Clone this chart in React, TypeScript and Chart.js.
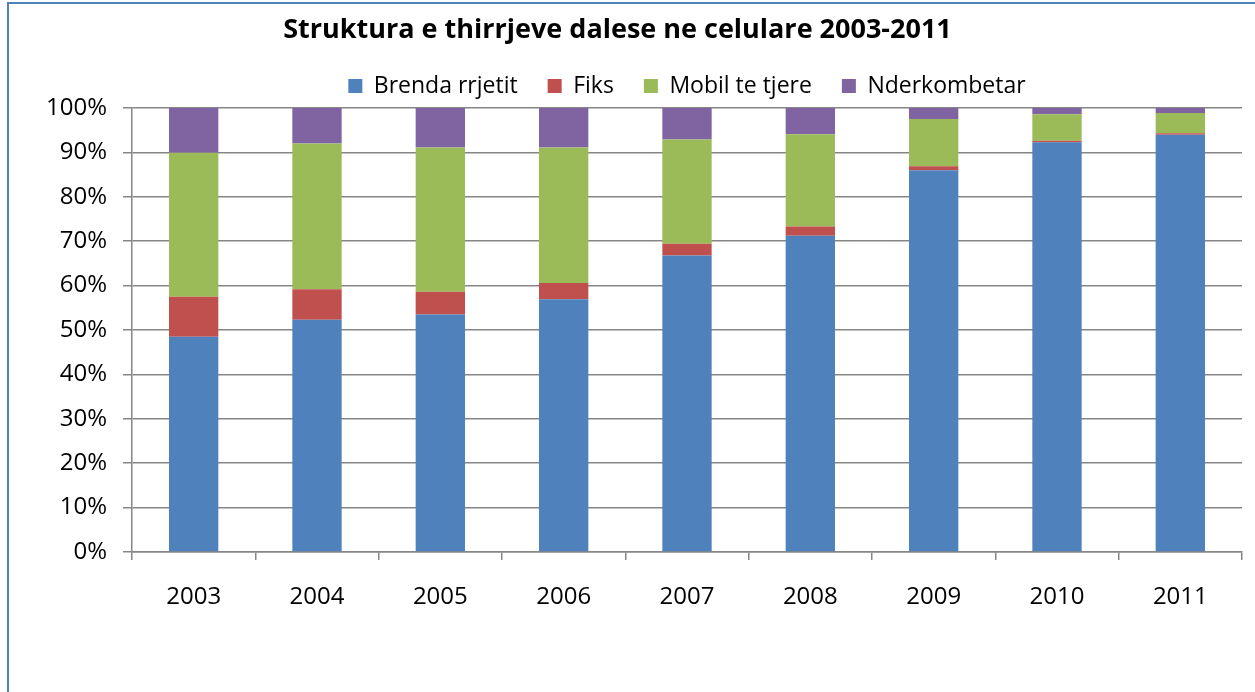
import React, { useEffect, useRef } from "react";
import { Chart, registerables } from "chart.js";

Chart.register(...registerables);

const years = ["2003", "2004", "2005", "2006", "2007", "2008", "2009", "2010", "2011"];
const brendaRrjetit = [48.5, 52.3, 53.5, 56.9, 66.8, 71.2, 86.0, 92.3, 94.0];
const fiks = [9.0, 6.9, 5.1, 3.7, 2.6, 2.1, 0.9, 0.3, 0.3];
const mobilTeTjere = [32.4, 32.8, 32.5, 30.5, 23.5, 20.8, 10.6, 6.0, 4.6];
const nderkombetar = [10.1, 8.0, 8.9, 8.9, 7.1, 5.9, 2.5, 1.4, 1.1];
const seriesNames = ["Brenda rrjetit", "Fiks", "Mobil te tjere", "Nderkombetar"];
const seriesColors = ["#4F81BD", "#C0504D", "#9BBB59", "#8064A2"];
const titleText = "Struktura e thirrjeve dalese ne celulare 2003-2011";

const FONT = "'Open Sans', 'Liberation Sans', sans-serif";
const GRID = "#868686";

export default function App() {
  const canvasRef = useRef<HTMLCanvasElement | null>(null);

  useEffect(() => {
    if (!canvasRef.current) return;
    const values = [brendaRrjetit, fiks, mobilTeTjere, nderkombetar];
    const chart = new Chart(canvasRef.current, {
      type: "bar",
      data: {
        labels: years,
        datasets: seriesNames.map((name, i) => ({
          label: name,
          data: values[i],
          backgroundColor: seriesColors[i],
          borderWidth: 0,
          barPercentage: 0.4,
          categoryPercentage: 1,
        })),
      },
      options: {
        animation: false,
        responsive: true,
        maintainAspectRatio: false,
        layout: { padding: { left: -16, right: 13, top: 0, bottom: 0 } },
        plugins: {
          tooltip: { enabled: false },
          title: {
            display: true,
            text: titleText,
            color: "#000",
            font: { family: FONT, size: 27, weight: "bold" },
            padding: { top: 10, bottom: -1.9 },
          },
          subtitle: {
            display: true,
            text: "",
            weight: 500,
            font: { family: FONT, size: 1, lineHeight: 1 },
            padding: { top: -0.5, bottom: 0 },
          },
          legend: {
            display: true,
            position: "top",
            fullSize: false,
            labels: {
              color: "#000",
              font: { family: FONT, size: 23 },
              boxWidth: 14,
              boxHeight: 14,
              padding: 30,
            },
          },
        },
        scales: {
          x: {
            stacked: true,
            afterFit: (scale: any) => {
              scale.height = 140;
            },
            grid: {
              display: true,
              drawOnChartArea: false,
              drawTicks: true,
              tickLength: 8,
              color: GRID,
              lineWidth: 1.5,
              offset: true,
            },
            border: { display: true, color: GRID, width: 1.5 },
            ticks: {
              color: "#000",
              font: { family: FONT, size: 24 },
              padding: 23,
              maxRotation: 0,
            },
          },
          y: {
            stacked: true,
            min: 0,
            max: 100,
            afterFit: (scale: any) => {
              scale.width = 139;
            },
            grid: {
              display: true,
              drawTicks: true,
              tickLength: 9,
              color: GRID,
              lineWidth: 1.5,
            },
            border: { display: true, color: GRID, width: 1.5 },
            ticks: {
              stepSize: 10,
              color: "#000",
              font: { family: FONT, size: 24 },
              padding: 16,
              callback: (v: any) => v + "%",
            },
          },
        },
      },
    });
    return () => chart.destroy();
  }, []);

  return (
    <div
      style={{
        position: "absolute",
        left: 7,
        top: 2,
        width: 1248,
        height: 690,
        borderLeft: "2px solid #4F81BD",
        borderTop: "2px solid #4F81BD",
        boxSizing: "border-box",
        background: "#fff",
        overflow: "hidden",
      }}
    >
      <div style={{ position: "relative", width: 1246, height: 688 }}>
        <canvas ref={canvasRef} />
      </div>
    </div>
  );
}
